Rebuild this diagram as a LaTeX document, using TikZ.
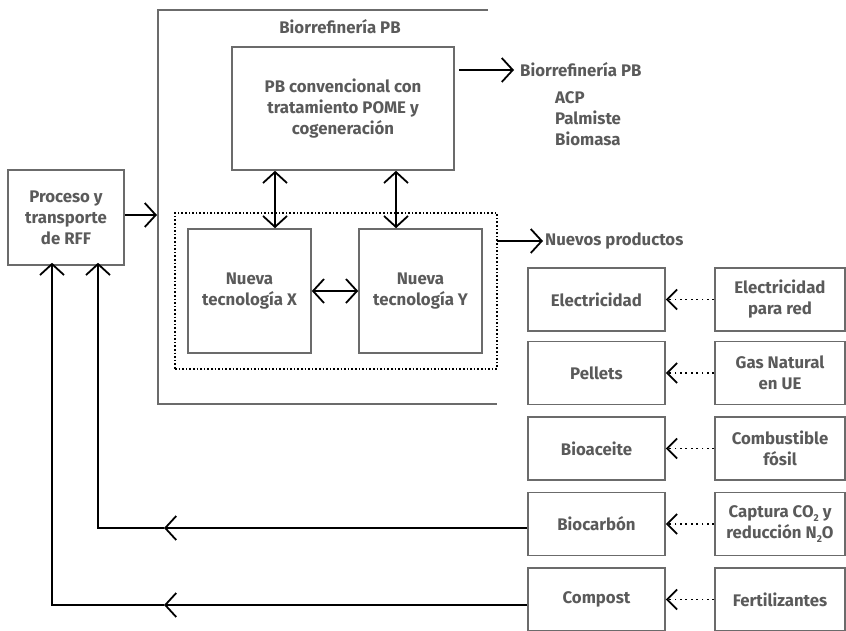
\documentclass[tikz,border=0pt]{standalone}
\usepackage{fontspec}
\setmainfont{Fira Sans}
\usetikzlibrary{arrows.meta}
\definecolor{boxgray}{HTML}{6B6B6B}
\definecolor{txtgray}{HTML}{5A5A5A}
\newcommand{\lowtwo}{\raisebox{-0.35ex}{\fontsize{10}{10}\selectfont 2}}
\begin{document}
\begin{tikzpicture}[x=1pt,y=-1pt,
  txt/.style={text=txtgray, font=\bfseries\fontsize{16.8}{21}\selectfont, inner sep=0pt},
  box/.style={txt, draw=boxgray, line width=1.6pt, align=center, rectangle},
  conn/.style={line width=1.8pt, black},
  tip/.style={-{Straight Barb[length=11pt,width=24pt]}},
  stip/.style={-{Straight Barb[length=10pt,width=20pt]}},
  dtip/.style={{Straight Barb[length=11pt,width=24pt]}-{Straight Barb[length=11pt,width=24pt]}},
  dots/.style={dash pattern=on 1.6pt off 2pt},
  adots/.style={dash pattern=on 1.8pt off 3.6pt}
]
\useasboundingbox (0,0) rectangle (846,630);

% outer frame (open on the right)
\draw[boxgray, line width=1.6pt] (488,10) -- (158,10) -- (158,404) -- (497,404);
\node[txt] (title) at (340,27) {Biorrefinería PB};

% main boxes
\node[box, minimum width=116pt, minimum height=95pt] (proc) at (66,217.5) {Proceso y\\transporte\\de RFF};
\node[box, minimum width=222pt, minimum height=123pt] (pb) at (343,108.5) {PB convencional con\\tratamiento POME y\\cogeneración};
\node[draw, black, line width=1.6pt, dots, minimum width=322pt, minimum height=156pt, inner sep=0pt] (dotbox) at (336,291) {};
\node[box, minimum width=123pt, minimum height=124pt] (nx) at (249.5,291) {Nueva\\tecnología X};
\node[box, minimum width=123pt, minimum height=124pt] (ny) at (420.5,291) {Nueva\\tecnología Y};

% products (left column)
\node[box, minimum width=137pt, minimum height=63pt] (elec) at (596.5,299.5) {Electricidad};
\node[box, minimum width=137pt, minimum height=63pt] (pell) at (596.5,373) {Pellets};
\node[box, minimum width=137pt, minimum height=63pt] (bioa) at (596.5,448.5) {Bioaceite};
\node[box, minimum width=137pt, minimum height=63pt] (bioc) at (596.5,524) {Biocarbón};
\node[box, minimum width=137pt, minimum height=63pt] (comp) at (596.5,599.5) {Compost};

% substituted (right column)
\node[box, minimum width=130pt, minimum height=63pt] (relec) at (780,299.5) {Electricidad\\para red};
\node[box, minimum width=130pt, minimum height=63pt] (rgas) at (780,373) {Gas Natural\\en UE};
\node[box, minimum width=130pt, minimum height=63pt] (rfos) at (780,448.5) {Combustible\\fósil};
\node[box, minimum width=130pt, minimum height=63pt] (rcap) at (780,524) {Captura CO\lowtwo{} y\\reducción N\lowtwo O};
\node[box, minimum width=130pt, minimum height=63pt] (rfer) at (780,599.5) {Fertilizantes};

% labels
\node[txt, anchor=west] (lblpb) at (520,70) {Biorrefinería PB};
\node[txt, anchor=north west, align=left] (lbllist) at (555,91) {ACP\\Palmiste\\Biomasa};
\node[txt, anchor=west] (lblnp) at (545,241) {Nuevos productos};

% coordinates
\coordinate (pbout) at (459,70);
\coordinate (procin) at (157,215);
\coordinate (npout) at (497,241);
\coordinate (bcmid) at (164,528);
\coordinate (bccorner) at (98,528);
\coordinate (cpmid) at (164,605);
\coordinate (cpcorner) at (52,605);

% connectors
\draw[conn, tip, shorten >=6pt] (pbout) -- (lblpb.west);
\draw[conn, tip] (proc.east |- procin) -- (procin);
\draw[conn, tip, shorten >=2pt] (npout) -- (lblnp.west);

\draw[conn, dtip] (pb.south -| 275,0) -- (nx.north -| 275,0);
\draw[conn, dtip] (pb.south -| 396,0) -- (ny.north -| 396,0);
\draw[conn, dtip] (nx.east) -- (ny.west);

% feedback lines
\draw[conn, tip] (bioc.west |- bccorner) -- (bcmid);
\draw[conn, tip] (bcmid) -- (bccorner) -- ([yshift=3pt]proc.south -| bccorner);
\draw[conn, tip] (comp.west |- cpcorner) -- (cpmid);
\draw[conn, tip] (cpmid) -- (cpcorner) -- ([yshift=3pt]proc.south -| cpcorner);

% dotted substitution arrows
\draw[conn, adots, stip] (relec.west) -- (elec.east);
\draw[conn, adots, stip] (rgas.west) -- (pell.east);
\draw[conn, adots, stip] (rfos.west) -- (bioa.east);
\draw[conn, adots, stip] (rcap.west) -- (bioc.east);
\draw[conn, adots, stip] (rfer.west) -- (comp.east);
\end{tikzpicture}
\end{document}
